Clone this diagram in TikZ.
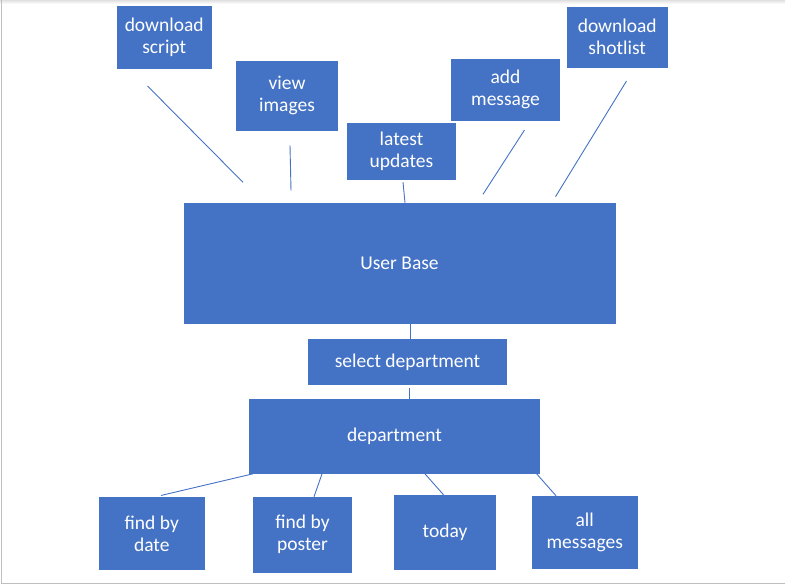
\documentclass[tikz,border=0pt]{standalone}
\usepackage{fontspec}
\setmainfont{Carlito}
\usepackage{xcolor}
\usepackage{tikz}
\definecolor{boxblue}{HTML}{4472C4}

\begin{document}
\begin{tikzpicture}[x=1pt, y=-1pt, every node/.style={font=\fontsize{19.5}{22}\selectfont, text=white}, align=center,
  block/.style={draw=boxblue, fill=boxblue, rectangle, inner sep=0pt},
  link/.style={draw=boxblue, line width=0.9pt}]
  \useasboundingbox (0,0) rectangle (785,584);
  \fill [top color=black!12, bottom color=white] (0,0) rectangle (785,4);
  \draw [black!25, line width=1pt] (1.5,0) -- (1.5,583) -- (785,583);

  % top row
  \node (dl_script) [block, minimum width=94.5pt, minimum height=62pt] at (164.25,37) {download\\script};
  \node (view_images) [block, minimum width=101pt, minimum height=69pt] at (287,95.5) {view\\images};
  \node (latest_updates) [block, minimum width=108pt, minimum height=56pt] at (401.5,151) {latest\\updates};
  \node (add_message) [block, minimum width=108pt, minimum height=61pt] at (505.5,89.5) {add\\message};
  \node (dl_shotlist) [block, minimum width=99.5pt, minimum height=60pt] at (617.25,37) {download\\shotlist};

  \node (user_base) [block, minimum width=431pt, minimum height=120.7pt] at (399.5,263.3) {User Base};
  \node (select_dept) [block, minimum width=198pt, minimum height=45.7pt] at (407.5,361.8) {select department};
  \node (department) [block, minimum width=290pt, minimum height=74.7pt] at (394.5,436.3) {department};

  % bottom row
  \node (find_date) [block, minimum width=105.5pt, minimum height=72.7pt] at (151.75,533.3) {find by\\date};
  \node (find_poster) [block, minimum width=98pt, minimum height=75pt] at (302.5,534.5) {find by\\poster};
  \node (today) [block, minimum width=101pt, minimum height=74.7pt] at (445,532.3) {today};
  \node (all_messages) [block, minimum width=104.5pt, minimum height=72.7pt] at (584.75,532.3) {all\\messages};

  % loose strokes above the user base
  \coordinate (script_a) at (147.5,86);
  \coordinate (script_b) at (243,182.3);
  \coordinate (images_a) at (290,145.3);
  \coordinate (images_b) at (291,190.7);
  \coordinate (message_a) at (524.5,130);
  \coordinate (message_b) at (483,194.3);
  \coordinate (shotlist_a) at (626.5,81);
  \coordinate (shotlist_b) at (555.5,196.7);

  \draw [link] (script_a) -- (script_b);
  \draw [link] (images_a) -- (images_b);
  \draw [link] ([xshift=1.5pt, yshift=-3pt]latest_updates.south) -- ([xshift=5.5pt]user_base.north);
  \draw [link] (message_a) -- (message_b);
  \draw [link] (shotlist_a) -- (shotlist_b);

  \draw [link] ([xshift=2.5pt]select_dept.north) -- ([xshift=10.5pt]user_base.south);
  \draw [link] ([xshift=1.5pt, yshift=-3.3pt]select_dept.south) -- ([xshift=14.5pt]department.north);

  \draw [link] ([xshift=3.5pt]department.south west) -- ([xshift=9.25pt, yshift=1.3pt]find_date.north);
  \draw [link] ([xshift=-72.5pt]department.south) -- ([xshift=11.5pt]find_poster.north);
  \draw [link] ([xshift=30.5pt]department.south) -- ([xshift=-1.5pt]today.north);
  \draw [link] ([xshift=-3pt]department.south east) -- ([xshift=-28.75pt]all_messages.north);
\end{tikzpicture}
\end{document}
